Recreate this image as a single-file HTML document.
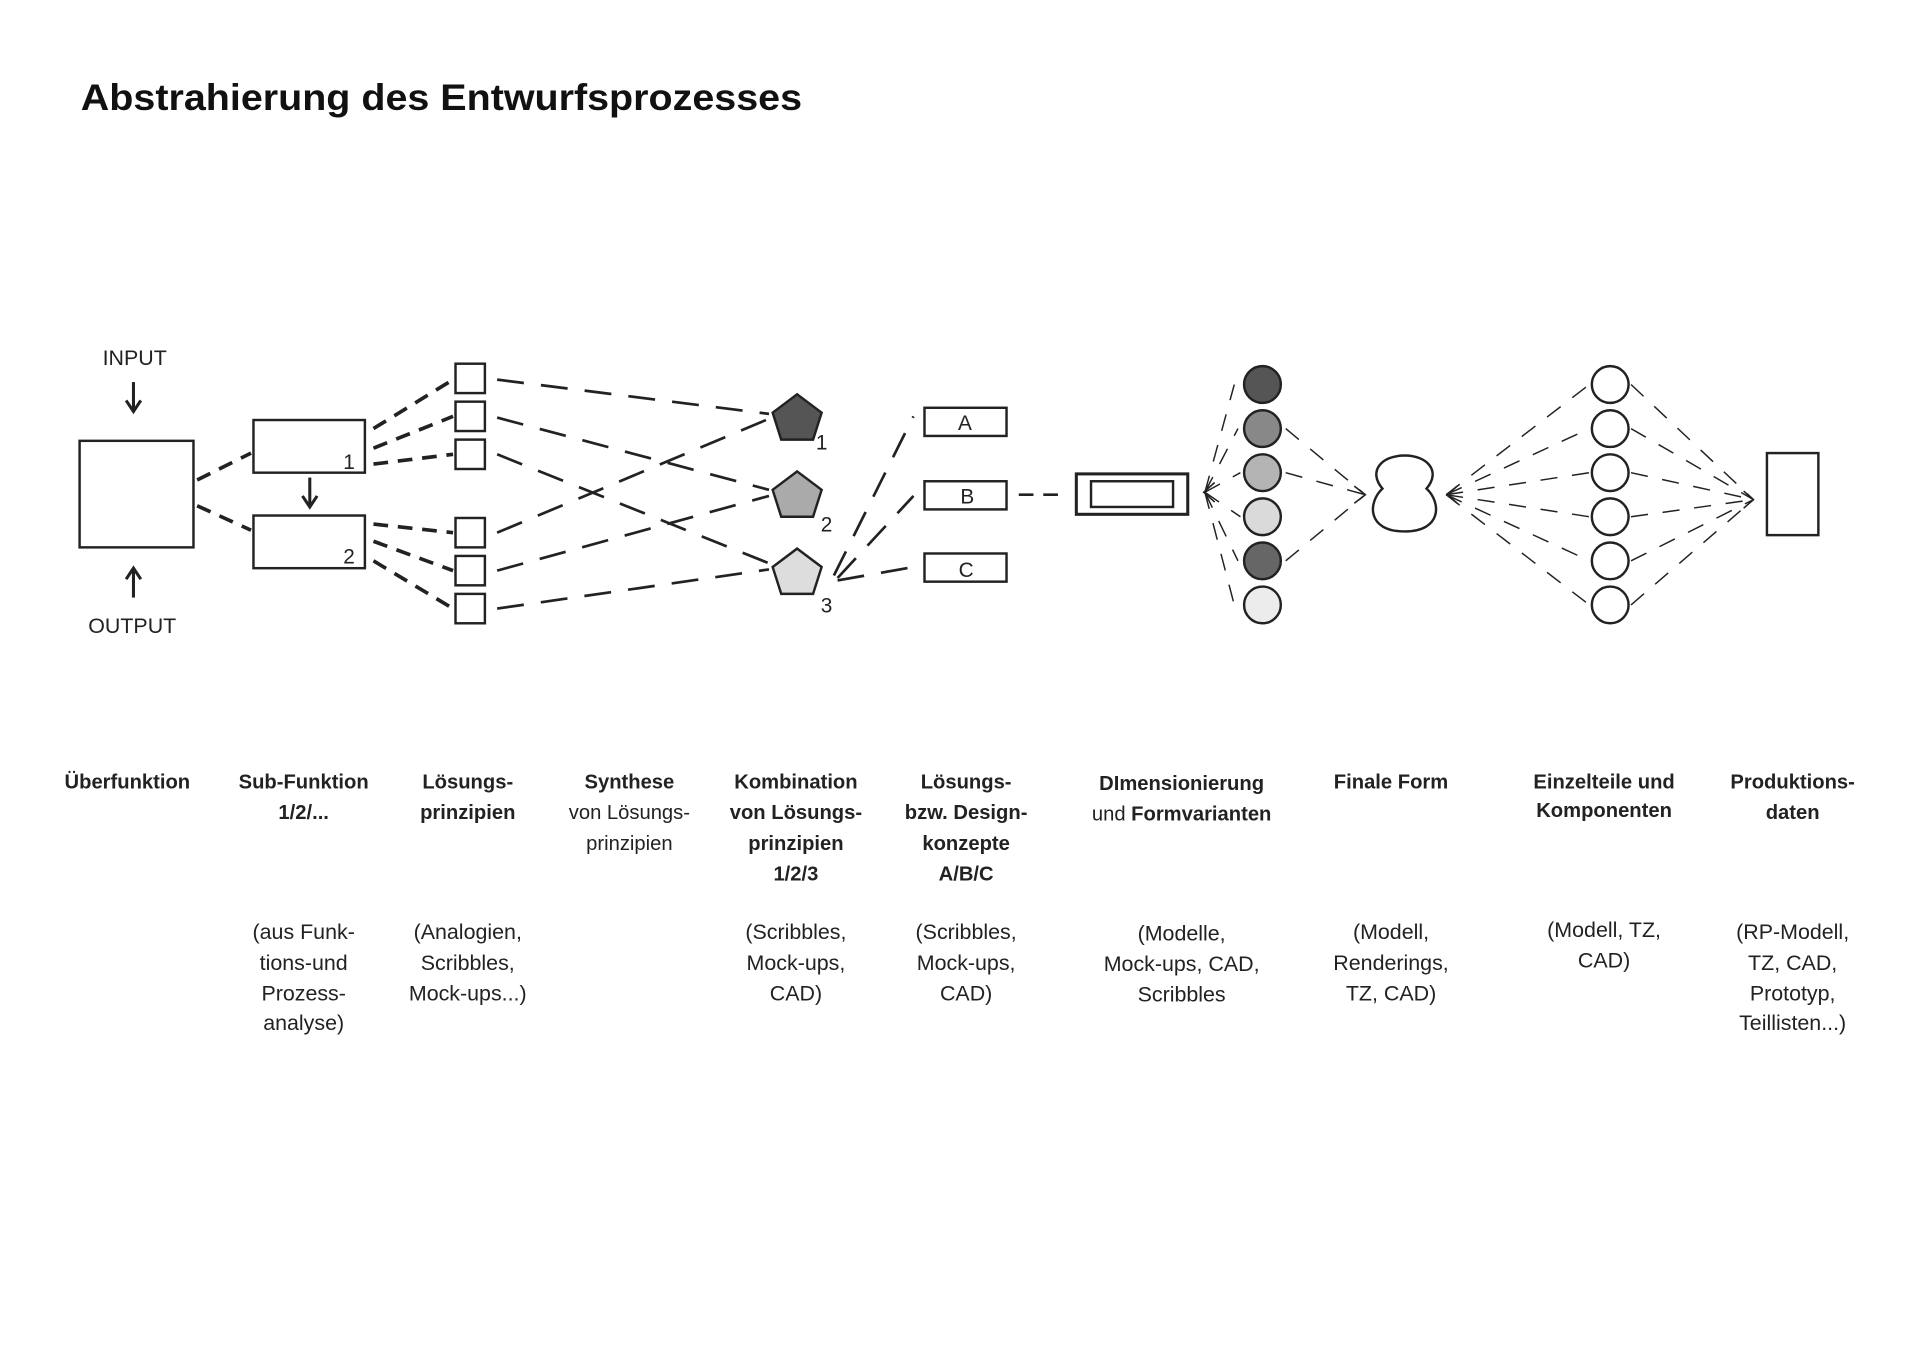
<!DOCTYPE html>
<html><head><meta charset="utf-8"><style>
html,body{margin:0;padding:0;background:#fff;}
svg{display:block;font-family:"Liberation Sans",sans-serif;}
</style></head><body>
<svg width="1920" height="1358" viewBox="0 0 1568 1109" xmlns="http://www.w3.org/2000/svg">
<text x="66" y="90" font-size="30" font-weight="bold" fill="#111" textLength="589" lengthAdjust="spacingAndGlyphs">Abstrahierung des Entwurfsprozesses</text>

<g fill="#222" font-size="17.5" text-anchor="middle">
<text x="110" y="298">INPUT</text>
<text x="108" y="517">OUTPUT</text>
</g>
<g stroke="#222" stroke-width="2.5" fill="none">
<line x1="109" y1="312" x2="109" y2="334"/><polyline points="103,327 109,336 115,327"/>
<line x1="109" y1="488" x2="109" y2="466"/><polyline points="103,473 109,464 115,473"/>
<line x1="253" y1="390" x2="253" y2="412"/><polyline points="247,405 253,414 259,405"/>
</g>
<g stroke="#222" stroke-width="2" fill="#fff">
<rect x="65" y="360" width="93" height="87"/>
<rect x="207" y="343" width="91" height="43"/>
<rect x="207" y="421" width="91" height="43"/>
<rect x="372" y="297" width="24" height="24"/>
<rect x="372" y="328" width="24" height="24"/>
<rect x="372" y="359" width="24" height="24"/>
<rect x="372" y="423" width="24" height="24"/>
<rect x="372" y="454" width="24" height="24"/>
<rect x="372" y="485" width="24" height="24"/>
<rect x="755" y="333" width="67" height="23"/>
<rect x="755" y="393" width="67" height="23"/>
<rect x="755" y="452" width="67" height="23"/>
<rect x="879" y="387" width="91" height="33" stroke-width="2.5"/>
<rect x="891" y="393" width="67" height="21"/>
<rect x="1443" y="370" width="42" height="67"/>
</g>
<g fill="#222" font-size="17" text-anchor="middle">
<text x="285" y="383">1</text><text x="285" y="460">2</text>
<text x="671" y="367">1</text><text x="675" y="434">2</text><text x="675" y="500">3</text>
<text x="788" y="351">A</text><text x="790" y="411">B</text><text x="789" y="471">C</text>
</g>
<g stroke="#222" stroke-width="3" stroke-dasharray="12,8" fill="none">
<line x1="161" y1="392" x2="205" y2="370"/>
<line x1="161" y1="413" x2="205" y2="433"/>
<line x1="305" y1="350" x2="370" y2="310"/>
<line x1="305" y1="366" x2="370" y2="340"/>
<line x1="305" y1="379" x2="370" y2="371"/>
<line x1="305" y1="428" x2="370" y2="435"/>
<line x1="305" y1="442" x2="370" y2="466"/>
<line x1="305" y1="458" x2="370" y2="497"/>
</g>
<g stroke="#222" stroke-width="2.2" stroke-dasharray="22,14" fill="none">
<line x1="406" y1="310" x2="628" y2="338"/>
<line x1="406" y1="341" x2="628" y2="400"/>
<line x1="406" y1="371" x2="628" y2="460"/>
<line x1="406" y1="435" x2="628" y2="342"/>
<line x1="406" y1="466" x2="628" y2="405"/>
<line x1="406" y1="497" x2="628" y2="465"/>
<line x1="681" y1="470" x2="746" y2="340"/>
<line x1="684" y1="472" x2="746" y2="405"/>
<line x1="684" y1="474" x2="752" y2="462"/>
<line x1="832" y1="404" x2="872" y2="404" stroke-dasharray="12,8"/>
</g>
<g stroke="#222" stroke-width="2">
<polygon points="651,322 671,337 664,359 638,359 631,337" fill="#555"/>
<polygon points="651,385 671,400 664,422 638,422 631,400" fill="#aaa"/>
<polygon points="651,448 671,463 664,485 638,485 631,463" fill="#ddd"/>
</g>
<g stroke="#222" stroke-width="1.2" stroke-dasharray="14,12" fill="none">
<line x1="984" y1="402" x2="1008" y2="314"/>
<line x1="984" y1="402" x2="1011" y2="350"/>
<line x1="984" y1="402" x2="1013" y2="386"/>
<line x1="984" y1="402" x2="1013" y2="422"/>
<line x1="984" y1="402" x2="1011" y2="458"/>
<line x1="984" y1="402" x2="1008" y2="494"/>
<line x1="1050" y1="350" x2="1115" y2="404"/>
<line x1="1050" y1="386" x2="1115" y2="404"/>
<line x1="1050" y1="458" x2="1115" y2="404"/>
<line x1="1181" y1="404" x2="1298" y2="314"/>
<line x1="1181" y1="404" x2="1298" y2="350"/>
<line x1="1181" y1="404" x2="1298" y2="386"/>
<line x1="1181" y1="404" x2="1298" y2="422"/>
<line x1="1181" y1="404" x2="1298" y2="458"/>
<line x1="1181" y1="404" x2="1298" y2="494"/>
<line x1="1332" y1="314" x2="1432" y2="408"/>
<line x1="1332" y1="350" x2="1432" y2="408"/>
<line x1="1332" y1="386" x2="1432" y2="408"/>
<line x1="1332" y1="422" x2="1432" y2="408"/>
<line x1="1332" y1="458" x2="1432" y2="408"/>
<line x1="1332" y1="494" x2="1432" y2="408"/>
</g>
<g stroke="#222" stroke-width="1.3" fill="none">
<polyline points="992,394 983,402 992,410"/>
<polyline points="1106,397 1115,404 1106,411"/>
<polyline points="1190,397 1182,404 1190,411"/>
<polyline points="1424,401 1432,408 1424,415"/>
</g>
<g stroke="#222" stroke-width="2">
<circle cx="1031" cy="314" r="15" fill="#555"/>
<circle cx="1031" cy="350" r="15" fill="#888"/>
<circle cx="1031" cy="386" r="15" fill="#b4b4b4"/>
<circle cx="1031" cy="422" r="15" fill="#dadada"/>
<circle cx="1031" cy="458" r="15" fill="#666"/>
<circle cx="1031" cy="494" r="15" fill="#ececec"/>
<g fill="#fff">
<circle cx="1315" cy="314" r="15"/><circle cx="1315" cy="350" r="15"/>
<circle cx="1315" cy="386" r="15"/><circle cx="1315" cy="422" r="15"/>
<circle cx="1315" cy="458" r="15"/><circle cx="1315" cy="494" r="15"/>
</g>
<path d="M1129,399 C1117,385 1128,372 1147,372 C1166,372 1177,385 1165,399 C1177,410 1178,434 1147,434 C1116,434 1117,410 1129,399 Z" fill="#fff"/>
</g>

<g font-size="16.5" text-anchor="middle" fill="#222">
<g font-weight="bold">
<text x="104" y="644">Überfunktion</text>
<text x="248" y="644">Sub-Funktion</text><text x="248" y="669">1/2/...</text>
<text x="382" y="644">Lösungs-</text><text x="382" y="669">prinzipien</text>
<text x="514" y="644">Synthese</text>
<text x="650" y="644">Kombination</text><text x="650" y="669">von Lösungs-</text><text x="650" y="694">prinzipien</text><text x="650" y="719">1/2/3</text>
<text x="789" y="644">Lösungs-</text><text x="789" y="669">bzw. Design-</text><text x="789" y="694">konzepte</text><text x="789" y="719">A/B/C</text>
<text x="965" y="645">DImensionierung</text>
<text x="1136" y="644">Finale Form</text>
<text x="1310" y="644">Einzelteile und</text><text x="1310" y="667">Komponenten</text>
<text x="1464" y="644">Produktions-</text><text x="1464" y="669">daten</text>
</g>
<text x="514" y="669">von Lösungs-</text><text x="514" y="694">prinzipien</text>
<text x="965" y="670">und <tspan font-weight="bold">Formvarianten</tspan></text>
<g font-size="17.5">
<text x="248" y="767">(aus Funk-</text><text x="248" y="792">tions-und</text><text x="248" y="817">Prozess-</text><text x="248" y="841">analyse)</text>
<text x="382" y="767">(Analogien,</text><text x="382" y="792">Scribbles,</text><text x="382" y="817">Mock-ups...)</text>
<text x="650" y="767">(Scribbles,</text><text x="650" y="792">Mock-ups,</text><text x="650" y="817">CAD)</text>
<text x="789" y="767">(Scribbles,</text><text x="789" y="792">Mock-ups,</text><text x="789" y="817">CAD)</text>
<text x="965" y="768">(Modelle,</text><text x="965" y="793">Mock-ups, CAD,</text><text x="965" y="818">Scribbles</text>
<text x="1136" y="767">(Modell,</text><text x="1136" y="792">Renderings,</text><text x="1136" y="817">TZ, CAD)</text>
<text x="1310" y="765">(Modell, TZ,</text><text x="1310" y="790">CAD)</text>
<text x="1464" y="767">(RP-Modell,</text><text x="1464" y="792">TZ, CAD,</text><text x="1464" y="817">Prototyp,</text><text x="1464" y="841">Teillisten...)</text>
</g>
</g>
</svg>
</body></html>
